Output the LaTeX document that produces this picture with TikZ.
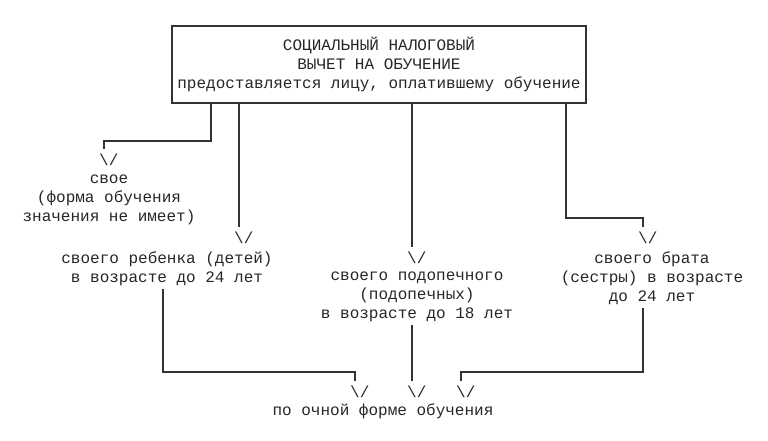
\documentclass[tikz,border=0pt]{standalone}
\usepackage{fontspec}
\usepackage{tikz}
\usetikzlibrary{positioning}
\newfontfamily\monofont{Liberation Mono}
\def\fsize{12}
\def\fskip{14.25}
\def\veeshift{(4.8,11)}
\newcommand{\veetext}{\textbackslash/}

\begin{document}
\begin{tikzpicture}[
    x=0.75pt, y=-0.75pt,
    line width=1pt,
    draw=black!80,
    every node/.style={font=\monofont\fontsize{\fsize}{\fskip}\selectfont, text=black!85, align=center, inner sep=2pt},
    box/.style={draw, minimum width=310.5pt, minimum height=57.75pt},
    veetip/.style={inner sep=0pt}
]
\useasboundingbox (0,0) rectangle (768,440);

% boxes and texts
\node[box] (box) at (379,64.5) {СОЦИАЛЬНЫЙ НАЛОГОВЫЙ\\ВЫЧЕТ НА ОБУЧЕНИЕ\\предоставляется лицу, оплатившему обучение};
\node (own) at (109,200) {свое\\(форма обучения\\значения не имеет)};
\node (child) at (167,268.5) {своего ребенка (детей)\\в возрасте до 24 лет};
\node (ward) at (417,297) {своего подопечного\\(подопечных)\\в возрасте до 18 лет};
\node (sibling) at (652,278) {своего брата\\(сестры) в возрасте\\до 24 лет};
\node (fulltime) at (383,411) {по очной форме обучения};

% bends and line ends
\coordinate (k1) at (211,141);
\coordinate (e1) at (104,149);
\coordinate (e2) at (239,227);
\coordinate (e3) at (412,247);
\coordinate (k4) at (566,218);
\coordinate (e4) at (643,227);
\coordinate (k5) at (163,372);
\coordinate (e5) at (355,381);
\coordinate (e6) at (412,381);
\coordinate (k7) at (643,372);
\coordinate (e7) at (461,381);

% arrow tips
\foreach \i in {1,...,7}
    \node[veetip] (v\i) at ([shift={\veeshift}]e\i) {\veetext};

% connectors
\draw (box.south -| k1) -- (k1) -| (e1);
\draw (box.south -| e2) -- (e2);
\draw (box.south -| e3) -- (e3);
\draw (box.south -| k4) -- (k4) -| (e4);
\draw (child.south -| k5) -- (k5) -| (e5);
\draw (ward.south -| e6) -- (e6);
\draw (sibling.south -| k7) -- (k7) -| (e7);
\end{tikzpicture}
\end{document}
